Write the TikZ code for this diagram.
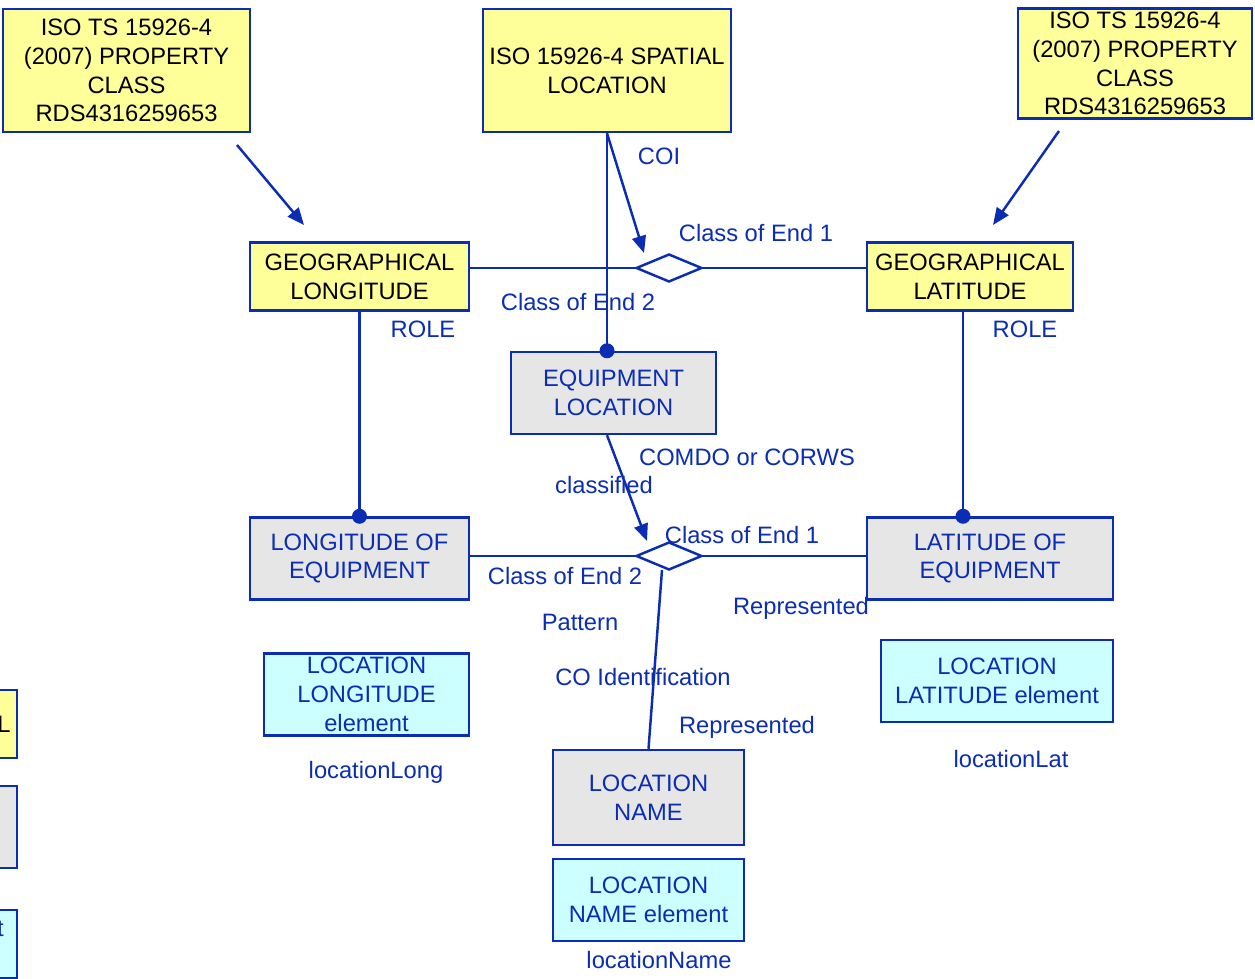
\documentclass[tikz,border=0pt]{standalone}
\usepackage{fontspec}
\setmainfont{Liberation Sans}
\usetikzlibrary{arrows.meta,shapes.geometric}
\definecolor{umlblue}{RGB}{10,45,180}
\definecolor{umlyellow}{RGB}{255,255,153}
\definecolor{umlgray}{RGB}{230,230,230}
\definecolor{umlcyan}{RGB}{204,255,255}

\begin{document}
\begin{tikzpicture}[x=0.02cm,y=-0.02cm]
\tikzset{
  box/.style 2 args={rectangle,draw=umlblue,line width=1.4pt,inner xsep=2pt,inner ysep=0pt,align=center,
    minimum width=#1*0.02cm,minimum height=#2*0.02cm,font=\fontsize{13.5}{16.4}\selectfont},
  ybox/.style={fill=umlyellow,text=black},
  gbox/.style={fill=umlgray,text=umlblue},
  cbox/.style={fill=umlcyan,text=umlblue},
  lbl/.style={inner sep=0pt,text=umlblue,font=\fontsize{13.5}{16.4}\selectfont},
  assoc/.style={diamond,draw=umlblue,line width=1.4pt,fill=white,inner sep=0pt,minimum width=1.32cm,minimum height=0.56cm},
  conn/.style={draw=umlblue,line width=1.4pt},
  directed/.style={conn,-{Triangle[length=3.4mm,width=2.8mm]}},
  enddot/.style={fill=umlblue}
}
\useasboundingbox (0,0) rectangle (1255,979);
% boxes
\node[box={247}{123},ybox] (n_PropL) at (126.5,70.5) {ISO TS 15926-4\\(2007) PROPERTY\\CLASS\\RDS4316259653};
\node[box={248}{123},ybox] (n_Spatial) at (607,70.5) {ISO 15926-4 SPATIAL\\LOCATION};
\node[box={234}{110},ybox] (n_PropR) at (1135,63.5) {ISO TS 15926-4\\(2007) PROPERTY\\CLASS\\RDS4316259653};
\node[box={219}{68},ybox] (n_GeoLong) at (359.5,276.5) {GEOGRAPHICAL\\LONGITUDE};
\node[box={206}{68},ybox] (n_GeoLat) at (970,276.5) {GEOGRAPHICAL\\LATITUDE};
\node[box={205}{82},gbox] (n_EqLoc) at (613.5,393) {EQUIPMENT\\LOCATION};
\node[box={219}{82},gbox] (n_LongEq) at (359.5,558.5) {LONGITUDE OF\\EQUIPMENT};
\node[box={246}{82},gbox] (n_LatEq) at (990,558.5) {LATITUDE OF\\EQUIPMENT};
\node[box={205}{82},cbox] (n_LocLongEl) at (366.5,694.5) {LOCATION\\LONGITUDE\\element};
\node[box={232}{82},cbox] (n_LocLatEl) at (997,681) {LOCATION\\LATITUDE element};
\node[box={191}{95},gbox] (n_LocName) at (648.5,797.5) {LOCATION\\NAME};
\node[box={191}{82},cbox] (n_LocNameEl) at (648.5,900) {LOCATION\\NAME element};
% cut off at the left edge
\node[box={200}{68},ybox,anchor=east] (n_CutA) at (18,724) {};
\node[box={200}{82},gbox,anchor=east] (n_CutB) at (18,827) {};
\node[box={200}{68},cbox,anchor=east] (n_CutC) at (18,944) {};
\node[lbl,text=black,anchor=east] (t_CutA) at (11,724) {L};
\node[lbl,anchor=east] (t_CutC) at (4,929) {t};
% relationship diamonds
\node[assoc] (n_dUp) at (669,268) {};
\node[assoc] (n_dLow) at (669,556) {};
\coordinate (c_coiTip) at (644,253);
\coordinate (c_clsTip) at (647,541);
\coordinate (c_lowFoot) at (662,570);
\coordinate (c_propLFrom) at (237,145);
\coordinate (c_propLTo) at (304,225);
\coordinate (c_propRFrom) at (1059,131);
\coordinate (c_propRTo) at (993,225);
% connectors
\draw[conn] (n_GeoLong.east |- n_dUp) -- (n_dUp.west);
\draw[conn] (n_dUp.east) -- (n_dUp -| n_GeoLat.west);
\draw[conn] (n_LongEq.east |- n_dLow) -- (n_dLow.west);
\draw[conn] (n_dLow.east) -- (n_dLow -| n_LatEq.west);
\draw[conn] (n_Spatial.south) -- (n_Spatial.south |- n_EqLoc.north);
\draw[directed] (n_Spatial.south) -- (c_coiTip);
\draw[directed] (n_EqLoc.south -| n_Spatial.south) -- (c_clsTip);
\draw[conn] (c_lowFoot) -- (n_LocName.north);
\draw[conn] (n_GeoLong.south) -- (n_LongEq.north);
\draw[conn] ([xshift=-0.14cm]n_GeoLat.south) -- ([xshift=-0.14cm]n_GeoLat.south |- n_LatEq.north);
\draw[directed] (c_propLFrom) -- (c_propLTo);
\draw[directed] (c_propRFrom) -- (c_propRTo);
\fill[enddot] (n_Spatial.south |- n_EqLoc.north) circle (0.15cm);
\fill[enddot] (n_LongEq.north) circle (0.15cm);
\fill[enddot] ([xshift=-0.14cm]n_GeoLat.south |- n_LatEq.north) circle (0.15cm);
% labels
\node[lbl] (l_coi) at (659,156) {COI};
\node[lbl] (l_endA1) at (756,233) {Class of End 1};
\node[lbl] (l_endA2) at (578,302) {Class of End 2};
\node[lbl] (l_roleL) at (423,329) {ROLE};
\node[lbl] (l_roleR) at (1025,329) {ROLE};
\node[lbl] (l_comdo) at (747,457) {COMDO or CORWS};
\node[lbl] (l_classified) at (604,485) {classified};
\node[lbl] (l_endB1) at (742,535) {Class of End 1};
\node[lbl] (l_endB2) at (565,576) {Class of End 2};
\node[lbl] (l_reprA) at (801,608) {Represented};
\node[lbl] (l_pattern) at (580,622) {Pattern};
\node[lbl] (l_coid) at (643,677) {CO Identification};
\node[lbl] (l_reprB) at (747,727) {Represented};
\node[lbl] (l_long) at (376,772) {locationLong};
\node[lbl] (l_lat) at (1011,759) {locationLat};
\node[lbl] (l_name) at (659,960) {locationName};
\end{tikzpicture}
\end{document}
